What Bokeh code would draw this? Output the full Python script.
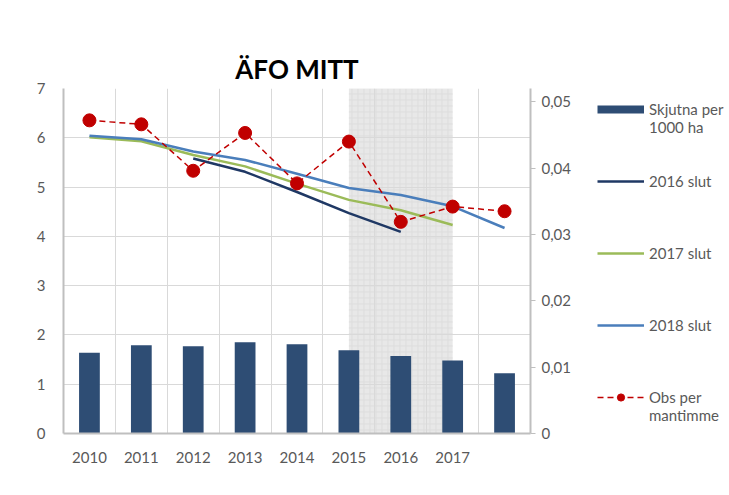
from bokeh.plotting import figure
from bokeh.layouts import row
from bokeh.models import (Range1d, LinearAxis, FixedTicker, CustomJSTickFormatter,
                          BoxAnnotation, Legend, LegendItem, ColumnDataSource)
from bokeh.embed import file_html
from bokeh.resources import INLINE

nan = float("nan")

# ---- data ----
years = ["2010", "2011", "2012", "2013", "2014", "2015", "2016", "2017", "2018"]
tick_labels = ["2010", "2011", "2012", "2013", "2014", "2015", "2016", "2017", ""]
skjutna = [1.64, 1.79, 1.77, 1.85, 1.81, 1.69, 1.57, 1.48, 1.22]
slut_2016 = [nan, nan, 5.58, 5.31, 4.90, 4.47, 4.09, nan, nan]
slut_2017 = [6.01, 5.93, 5.65, 5.42, 5.07, 4.74, 4.53, 4.23, nan]
slut_2018 = [6.04, 5.97, 5.72, 5.55, 5.27, 4.98, 4.84, 4.61, 4.17]
obs_per_mantimme = [0.0472, 0.0466, 0.0396, 0.0453, 0.0377, 0.0440, 0.0319, 0.0342, 0.0335]
left_ticks = [0, 1, 2, 3, 4, 5, 6, 7]
right_ticks = [0, 0.01, 0.02, 0.03, 0.04, 0.05]
shade_from, shade_to = "2015", "2017"

n = len(years)
xs = [i + 0.5 for i in range(n)]

FONT = "Lato"
GRAY_TXT = "#595959"
GRID = "#d9d9d9"
AXIS = "#bfbfbf"
BAR = "#2e4d74"
C16, C17, C18, CRED = "#1f3864", "#9bbb59", "#4a7ebb", "#c00000"

src = ColumnDataSource(dict(x=xs, skjutna=skjutna, s16=slut_2016, s17=slut_2017,
                            s18=slut_2018, obs=obs_per_mantimme))

# ---------------- main chart ----------------
p = figure(width=575, height=487, x_range=Range1d(0, n), y_range=Range1d(0, 7),
           output_backend="svg", toolbar_location=None,
           min_border_left=63, min_border_right=45, min_border_top=88, min_border_bottom=54)
p.outline_line_color = None
p.background_fill_color = "white"
p.extra_y_ranges = {"obs": Range1d(0, 0.052)}

p.title.text = "ÄFO MITT"
p.title.align = "center"
p.title.offset = 56
p.title.text_font = FONT
p.title.text_font_style = "bold"
p.title.text_font_size = "26px"
p.title.text_color = "black"
p.title.standoff = 8

shade = BoxAnnotation(left=years.index(shade_from) + 0.5, right=years.index(shade_to) + 0.5,
                      fill_color="#e8e8e8", fill_alpha=1.0, line_color=None,
                      hatch_pattern="cross", hatch_color="#dddddd", hatch_scale=6,
                      hatch_weight=1, level="image")
p.add_layout(shade)

p.xgrid.ticker = FixedTicker(ticks=list(range(1, n)))
p.ygrid.ticker = FixedTicker(ticks=left_ticks)
p.xgrid.grid_line_color = GRID
p.ygrid.grid_line_color = GRID

p.xaxis.ticker = FixedTicker(ticks=xs)
p.xaxis.formatter = CustomJSTickFormatter(args=dict(labels=tick_labels),
                                          code="return labels[Math.floor(tick)];")
p.yaxis.ticker = FixedTicker(ticks=left_ticks)
for ax in (p.xaxis[0], p.yaxis[0]):
    ax.axis_line_color = AXIS
    ax.axis_line_width = 2
    ax.major_tick_line_color = None
    ax.minor_tick_line_color = None
    ax.major_label_text_font = FONT
    ax.major_label_text_font_size = "15px"
    ax.major_label_text_color = GRAY_TXT
p.xaxis.major_label_standoff = 12
p.yaxis.major_label_standoff = 12

raxis = LinearAxis(y_range_name="obs", ticker=FixedTicker(ticks=right_ticks),
                   formatter=CustomJSTickFormatter(
                       code="return tick == 0 ? '0' : tick.toFixed(2).replace('.', ',');"))
raxis.axis_line_color = AXIS
raxis.axis_line_width = 2
raxis.major_tick_line_color = AXIS
raxis.major_tick_in = 0
raxis.major_tick_out = 5
raxis.minor_tick_line_color = None
raxis.major_label_text_font = FONT
raxis.major_label_text_font_size = "15px"
raxis.major_label_text_color = GRAY_TXT
raxis.major_label_standoff = 6
p.add_layout(raxis, "right")

p.vbar(x="x", top="skjutna", width=0.4, source=src, fill_color=BAR, line_color=None)
p.line("x", "s16", source=src, line_color=C16, line_width=2.5)
p.line("x", "s17", source=src, line_color=C17, line_width=2.5)
p.line("x", "s18", source=src, line_color=C18, line_width=2.5)
p.line("x", "obs", source=src, y_range_name="obs", line_color=CRED,
       line_width=1.5, line_dash="6 4")
p.scatter("x", "obs", source=src, y_range_name="obs", size=13,
          fill_color=CRED, line_color=CRED)

# ---------------- legend panel ----------------
q = figure(width=154, height=487, x_range=Range1d(0, 1), y_range=Range1d(0, 1),
           x_axis_type=None, y_axis_type=None, output_backend="svg", toolbar_location=None,
           min_border_left=0, min_border_right=0, min_border_top=0, min_border_bottom=0)
q.outline_line_color = None
q.grid.visible = False
q.background_fill_color = "white"

lg_bar = q.line("x", "skjutna", source=src, line_color=BAR, line_width=8, visible=False)
lg16 = q.line("x", "s16", source=src, line_color=C16, line_width=2.5, visible=False)
lg17 = q.line("x", "s17", source=src, line_color=C17, line_width=2.5, visible=False)
lg18 = q.line("x", "s18", source=src, line_color=C18, line_width=2.5, visible=False)
lgo = q.line("x", "obs", source=src, line_color=CRED, line_width=1.5, line_dash="6 4",
             visible=False)
lgo_m = q.scatter("x", "obs", source=src, size=13, fill_color=CRED, line_color=CRED,
                  visible=False)
blank = q.line("x", "skjutna", source=src, line_alpha=0, visible=False)

rows = [("Skjutna per", [lg_bar]), ("1000 ha", [blank]),
        (" ", [blank]), (" ", [blank]),
        ("2016 slut", [lg16]),
        (" ", [blank]), (" ", [blank]), (" ", [blank]),
        ("2017 slut", [lg17]),
        (" ", [blank]), (" ", [blank]), (" ", [blank]),
        ("2018 slut", [lg18]),
        (" ", [blank]), (" ", [blank]), (" ", [blank]),
        ("Obs per", [lgo, lgo_m]), ("mantimme", [blank])]
legend = Legend(items=[LegendItem(label=t, renderers=r) for t, r in rows],
                location=(22, 9), orientation="vertical",
                border_line_color=None, background_fill_alpha=0,
                inactive_fill_alpha=0,
                padding=0, margin=0, spacing=0,
                glyph_width=47, glyph_height=18, label_height=18, label_standoff=5,
                label_text_font=FONT, label_text_font_size="15px",
                label_text_color=GRAY_TXT)
q.add_layout(legend)

open("out.html", "w").write(file_html(row(p, q), INLINE))
